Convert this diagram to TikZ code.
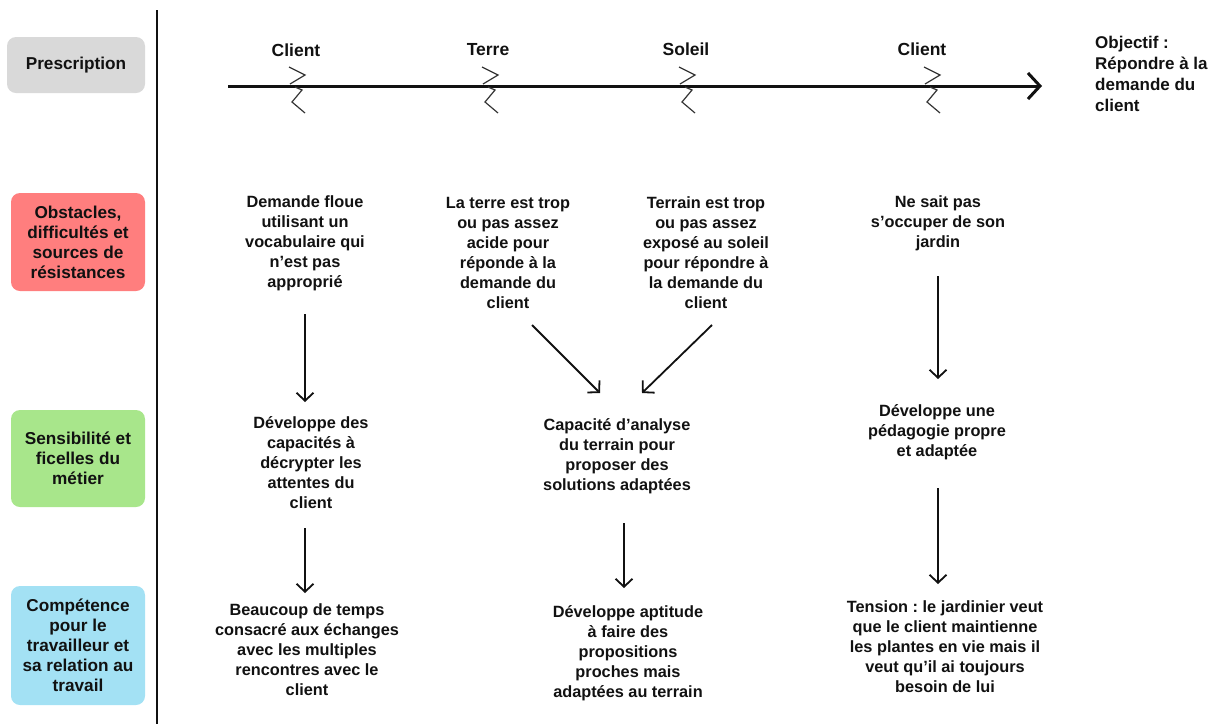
\documentclass[tikz,border=0pt]{standalone}
\usepackage{fontspec}
\setmainfont{Liberation Sans}
\usetikzlibrary{arrows.meta}
\definecolor{cgray}{HTML}{D9D9D9}
\definecolor{cred}{HTML}{FF7E7E}
\definecolor{cgreen}{HTML}{A8E68B}
\definecolor{cblue}{HTML}{A3E1F4}
\definecolor{ink}{HTML}{111111}
\frenchspacing
\begin{document}
\begin{tikzpicture}[x=1pt,y=-1pt,
  txt/.style={font=\bfseries\fontsize{16.3}{20}\selectfont, align=center, inner sep=0pt, text=ink},
  cat/.style={rounded corners=9pt, draw=none, font=\bfseries\fontsize{17.2}{20}\selectfont, align=center, inner sep=0pt, text=ink},
  arr/.style={line width=1.8pt, draw=ink, -{Straight Barb[length=8pt,width=17pt,line width=1.8pt]}},
  zig/.pic={\draw[line width=1.2pt, ink!85, line join=miter] (-5,-19)--(11,-11)--(-4,-2);
            \draw[line width=1.2pt, ink!85, line join=miter] (1,1)--(8,4)--(-2,16)--(11,27);}
]
\useasboundingbox (0,0) rectangle (1215,724);
% category boxes
\node[cat, fill=cgray, minimum width=138pt, minimum height=56pt] (pres) at (76,65) {Prescription};
\node[cat, fill=cred, minimum width=134pt, minimum height=98pt] (obst) at (78,242) {Obstacles,\\difficultés et\\sources de\\résistances};
\node[cat, fill=cgreen, minimum width=134pt, minimum height=97pt] (sens) at (78,458.5) {Sensibilité et\\ficelles du\\métier};
\node[cat, fill=cblue, minimum width=134pt, minimum height=119pt] (comp) at (78,645.5) {Compétence\\pour le\\travailleur et\\sa relation au\\travail};
% separator
\coordinate (sepT) at (157,10);
\coordinate (sepB) at (157,724);
\draw[line width=2pt, ink] (sepT) -- (sepB);
% timeline
\coordinate (tl0) at (228,86);
\coordinate (tl1) at (1042,86);
\draw[line width=3pt, ink, -{Straight Barb[length=12pt,width=26pt,line width=3pt]}] (tl0) -- (tl1);
\pic at (294,86) {zig};
\pic at (487,86) {zig};
\pic at (684,86) {zig};
\pic at (929,86) {zig};
\node[txt, font=\bfseries\fontsize{17.5}{20}\selectfont] (l1) at (296,50) {Client};
\node[txt, font=\bfseries\fontsize{17.5}{20}\selectfont] (l2) at (488,50) {Terre};
\node[txt, font=\bfseries\fontsize{17.5}{20}\selectfont] (l3) at (686,49) {Soleil};
\node[txt, font=\bfseries\fontsize{17.5}{20}\selectfont] (l4) at (922,49) {Client};
\node[txt, font=\bfseries\fontsize{17}{21}\selectfont, align=left, anchor=north west] (obj) at (1095,36) {Objectif :\\Répondre à la\\demande du\\client};
% obstacles row
\node[txt] (o1) at (305,243) {Demande floue\\utilisant un\\vocabulaire qui\\n’est pas\\approprié};
\node[txt] (o2) at (508,253) {La terre est trop\\ou pas assez\\acide pour\\réponde à la\\demande du\\client};
\node[txt] (o3) at (706,253) {Terrain est trop\\ou pas assez\\exposé au soleil\\pour répondre à\\la demande du\\client};
\node[txt] (o4) at (938,223) {Ne sait pas\\s’occuper de son\\jardin};
% sensibilite row
\node[txt] (s1) at (311,463) {Développe des\\capacités à\\décrypter les\\attentes du\\client};
\node[txt] (s2) at (617,456) {Capacité d’analyse\\du terrain pour\\proposer des\\solutions adaptées};
\node[txt] (s3) at (937,432) {Développe une\\pédagogie propre\\et adaptée};
% competence row
\node[txt] (c1) at (307,650) {Beaucoup de temps\\consacré aux échanges\\avec les multiples\\rencontres avec le\\client};
\node[txt] (c2) at (628,653) {Développe aptitude\\à faire des\\propositions\\proches mais\\adaptées au terrain};
\node[txt] (c3) at (945,647) {Tension : le jardinier veut\\que le client maintienne\\les plantes en vie mais il\\veut qu’il ai toujours\\besoin de lui};
% arrow end points
\coordinate (a1s) at (305,314); \coordinate (a1e) at (305,402);
\coordinate (a2s) at (532,325); \coordinate (a2e) at (600,393);
\coordinate (a3s) at (712,325); \coordinate (a3e) at (642,393);
\coordinate (a4s) at (938,276); \coordinate (a4e) at (938,379);
\coordinate (b1s) at (305,528); \coordinate (b1e) at (305,593);
\coordinate (b2s) at (624,523); \coordinate (b2e) at (624,588);
\coordinate (b4s) at (938,488); \coordinate (b4e) at (938,584);
\draw[arr] (a1s) -- (a1e);
\draw[arr] (a2s) -- (a2e);
\draw[arr] (a3s) -- (a3e);
\draw[arr] (a4s) -- (a4e);
\draw[arr] (b1s) -- (b1e);
\draw[arr] (b2s) -- (b2e);
\draw[arr] (b4s) -- (b4e);
\end{tikzpicture}
\end{document}
